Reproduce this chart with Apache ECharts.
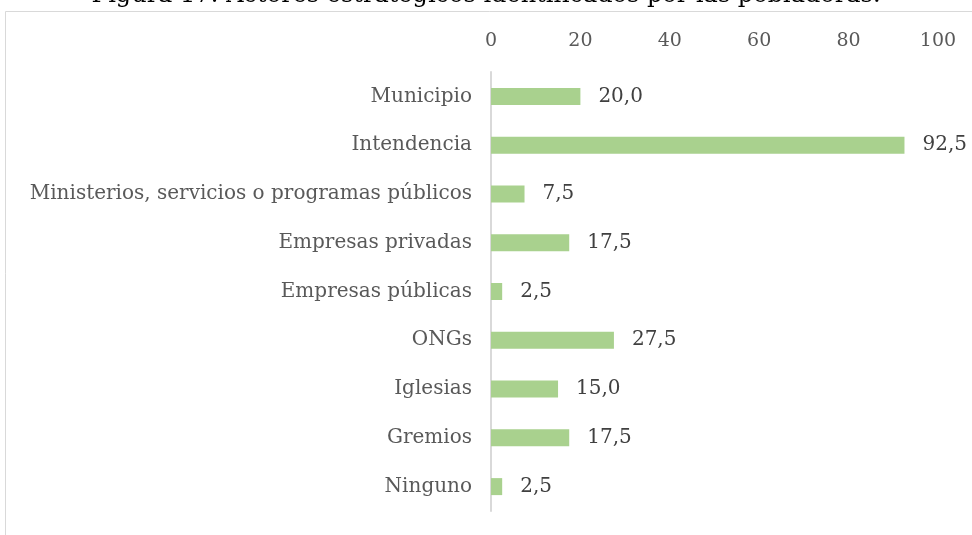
<!DOCTYPE html>
<html>
<head>
<meta charset="utf-8">
<script src="https://cdn.jsdelivr.net/npm/echarts@6/dist/echarts.min.js"></script>
<style>
  html, body { margin: 0; padding: 0; background: #fff; }
  #chart { width: 972px; height: 535px; }
</style>
</head>
<body>
<div id="chart"></div>
<script>
var categories = ['Municipio', 'Intendencia', 'Ministerios, servicios o programas públicos', 'Empresas privadas',
    'Empresas públicas', 'ONGs', 'Iglesias', 'Gremios', 'Ninguno'];
var values = [20.0, 92.5, 7.5, 17.5, 2.5, 27.5, 15.0, 17.5, 2.5];
var xTicks = [0, 20, 40, 60, 80, 100];

var chart = echarts.init(document.getElementById('chart'));
var serif = '"DejaVu Serif", "Liberation Serif", serif';

// formato con coma decimal
function fmt(v) {
    return v.toFixed(1).replace('.', ',');
}

var option = {
    backgroundColor: '#fff',
    animation: false,
    title: {
        text: 'Figura 17: Actores estratégicos identificados por las pobladoras.',
        left: 'center',
        top: -21,
        textStyle: { fontFamily: serif, fontSize: 24, fontWeight: 'normal', color: '#000' }
    },
    graphic: [{
        type: 'rect',
        shape: { x: 5.5, y: 11.5, width: 1000, height: 600 },
        style: { fill: '#fff', stroke: '#d9d9d9', lineWidth: 1 },
        z: -1
    }],
    grid: { left: 491, right: 34, top: 72, bottom: 24, containLabel: false },
    xAxis: {
        type: 'value',
        position: 'top',
        min: 0,
        max: 100,
        interval: 20,
        axisLine: { show: false },
        axisTick: { show: false },
        splitLine: { show: false },
        axisLabel: {
            margin: 21,
            fontFamily: serif,
            fontSize: 19,
            color: '#595959',
            formatter: function (v) { return xTicks.indexOf(v) >= 0 ? String(v) : ''; }
        }
    },
    yAxis: {
        type: 'category',
        inverse: true,
        data: categories,
        axisLine: { show: true, lineStyle: { color: '#d9d9d9', width: 2 } },
        axisTick: { show: false },
        axisLabel: {
            margin: 19,
            fontFamily: serif,
            fontSize: 20,
            color: '#595959'
        }
    },
    series: [{
        type: 'bar',
        data: values,
        barWidth: 17,
        itemStyle: { color: '#a9d18e' },
        label: {
            show: true,
            position: 'right',
            distance: 18,
            fontFamily: serif,
            fontSize: 20,
            color: '#404040',
            formatter: function (p) { return fmt(p.value); }
        }
    }]
};
chart.setOption(option);
</script>
</body>
</html>
